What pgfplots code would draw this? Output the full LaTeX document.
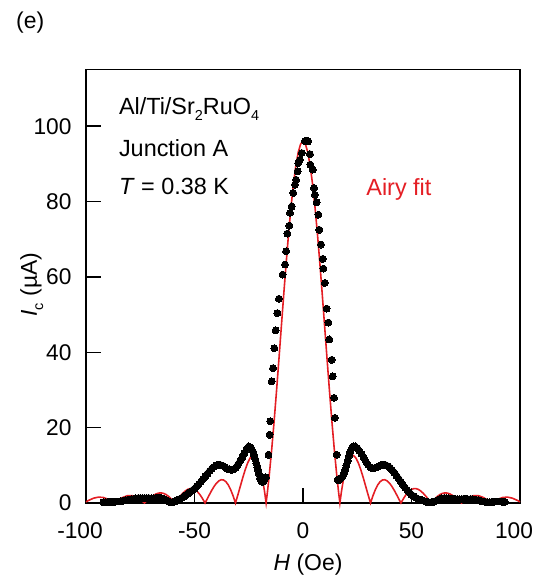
\documentclass[border=0pt]{standalone}
\usepackage{fontspec}
\setmainfont{Liberation Sans}
\usepackage{pgfplots}
\pgfplotsset{compat=1.18}
\definecolor{fitred}{RGB}{228,30,36}
\newcommand\sub[1]{\raisebox{-0.27em}{\fontsize{14.5}{14.5}\selectfont #1}}
\begin{document}
\begin{tikzpicture}
\path[use as bounding box] (-86bp,-74bp) rectangle (449bp,503bp);
\begin{axis}[at={(0,0)}, anchor=south west, scale only axis,
  width=434bp, height=433.3bp,
  xmin=-100, xmax=100, ymin=0, ymax=115,
  xtick={-100,-50,0,50,100}, xticklabels={{-100\kern12bp},-50,0,50,{100\kern12bp}},
  ytick={0,20,40,60,80,100}, yticklabels={0,20,40,60,80,100},
  tick align=inside, xtick pos=bottom, ytick pos=left,
  major tick length=15bp,
  axis line style={line width=1.5pt},
  every tick/.style={black, line width=1.5pt},
  tick label style={font=\fontsize{22.8}{26}\selectfont, inner sep=0pt},
  xticklabel style={anchor=north, yshift=-19.7bp},
  yticklabel style={anchor=east, xshift=-14.3bp},
  clip=false]
\addplot[fitred, line width=1.6pt] coordinates {
(-100,0.31)(-98.72,0.71)(-96.50,1.28)(-94.28,1.56)(-92.06,1.47)(-89.84,1.00)(-87.62,0.23)(-87.03,0)
(-85.41,0.64)(-83.19,1.44)(-80.97,1.92)(-78.75,1.96)(-76.53,1.51)(-74.31,0.62)(-73.07,0)
(-72.10,0.51)(-70.99,1.08)(-69.88,1.62)(-68.77,2.07)(-67.66,2.42)(-66.55,2.63)(-65.44,2.68)(-64.33,2.56)(-63.22,2.28)(-62.11,1.83)(-61.00,1.24)(-59.90,0.54)(-59.11,0)
(-57.68,1.04)(-56.57,1.83)(-55.46,2.54)(-54.35,3.14)(-53.24,3.58)(-52.13,3.81)(-51.02,3.81)(-49.91,3.57)(-48.80,3.09)(-47.70,2.37)(-46.59,1.44)(-45.14,0)
(-44.37,0.83)(-43.26,2.07)(-42.15,3.26)(-41.04,4.34)(-39.93,5.23)(-38.82,5.86)(-37.71,6.17)(-36.60,6.10)(-35.49,5.63)(-34.38,4.75)(-33.28,3.46)(-32.17,1.82)(-31.13,0)
(-29.95,2.27)(-28.84,4.54)(-27.73,6.78)(-26.62,8.85)(-25.51,10.62)(-24.40,11.92)(-23.29,12.62)(-22.18,12.58)(-21.07,11.71)(-19.97,9.86)(-18.86,7.05)(-17.75,3.17)(-17.00,0)
(-16.42,2.75)(-15.528,7.54)(-14.419,14.24)(-13.310,21.70)(-12.201,29.74)(-11.092,38.18)(-9.983,46.80)(-8.873,55.37)(-7.764,63.65)(-6.655,71.42)(-5.546,78.43)(-4.437,84.49)(-3.328,89.41)(-2.218,93.03)(-1.109,95.25)
(0,96.00)
(1.109,95.25)(2.218,93.03)(3.328,89.41)(4.437,84.49)(5.546,78.43)(6.655,71.42)(7.764,63.65)(8.873,55.37)(9.983,46.80)(11.092,38.18)(12.201,29.74)(13.310,21.70)(14.419,14.24)(15.528,7.54)(16.42,2.75)
(17.00,0)(17.75,3.17)(18.86,7.05)(19.97,9.86)(21.07,11.71)(22.18,12.58)(23.29,12.62)(24.40,11.92)(25.51,10.62)(26.62,8.85)(27.73,6.78)(28.84,4.54)(29.95,2.27)
(31.13,0)(32.17,1.82)(33.28,3.46)(34.38,4.75)(35.49,5.63)(36.60,6.10)(37.71,6.17)(38.82,5.86)(39.93,5.23)(41.04,4.34)(42.15,3.26)(43.26,2.07)(44.37,0.83)
(45.14,0)(46.59,1.44)(47.70,2.37)(48.80,3.09)(49.91,3.57)(51.02,3.81)(52.13,3.81)(53.24,3.58)(54.35,3.14)(55.46,2.54)(56.57,1.83)(57.68,1.04)
(59.11,0)(59.90,0.54)(61.00,1.24)(62.11,1.83)(63.22,2.28)(64.33,2.56)(65.44,2.68)(66.55,2.63)(67.66,2.42)(68.77,2.07)(69.88,1.62)(70.99,1.08)(72.10,0.51)
(73.07,0)(74.31,0.62)(76.53,1.51)(78.75,1.96)(80.97,1.92)(83.19,1.44)(85.41,0.64)
(87.03,0)(87.62,0.23)(89.84,1.00)(92.06,1.47)(94.28,1.56)(96.50,1.28)(98.72,0.71)(100,0.31)
};
\addplot[only marks, mark=*, mark size=3.5pt, mark options={fill=black, draw=black, line width=0pt}] coordinates {
(-92,0.2)(-91,0.2)(-90,0.3)(-89,0.3)(-88,0.3)(-87,0.3)(-86,0.4)(-85,0.4)(-84,0.5)(-83,0.6)(-82,0.7)(-81,0.8)(-80,0.9)(-79,1.0)(-78,1.1)(-77,1.2)(-76,1.3)(-75,1.3)(-74,1.3)(-73,1.3)(-72,1.3)(-71,1.3)(-70,1.2)(-69,1.2)(-68,1.3)(-67,1.4)(-66,1.4)(-65,1.2)(-64,1.0)(-63,0.7)(-62,0.4)(-61,0.2)(-60,0.2)(-59,0.4)(-58,0.7)(-57,1.0)(-56,1.3)(-55,1.7)(-54,2.1)(-53,2.5)(-52,2.9)(-51,3.3)(-50,3.8)(-49,4.4)(-48,5.0)(-47,5.7)(-46,6.4)(-45,7.1)(-44,7.8)(-43,8.5)(-42,9.1)(-41,9.6)(-40,10.0)(-39,10.2)(-38,10.1)(-37,9.9)(-36,9.5)(-35,9.1)(-34,8.9)(-33,8.8)(-32,8.9)(-31,9.4)(-30,10.2)(-29,11.1)(-28,12.1)(-27,13.2)(-26,14.3)(-25,15.0)(-24,14.7)(-23,13.6)(-22.5,12.6)(-22,11.6)(-21.5,10.5)(-21,9.5)(-20.6,8.6)(-20.2,7.6)(-19.8,6.6)(-19.4,6.0)(-18.8,5.6)(-18.2,5.8)(-17.6,6.4)(-17.1,6.8)
(-15.9,12.8)(-15.4,18.1)(-15.1,21.7)(-14.4,32.3)(-13.8,35.8)(-13.2,41.1)(-12.6,45.8)(-11.8,50.4)(-11.1,54.2)(-9.4,60.6)(-8.3,63.3)(-7.8,66.8)(-7.2,71.5)(-6.3,73.6)(-6.0,77.0)(-5.2,78.7)(-4.5,82.3)(-3.7,84.5)(-3.2,85.8)(-2.5,88.0)(-2.2,90.2)(-1.4,91.1)(-0.6,92.9)(0.9,96.0)(1.6,96.2)(2.4,96.0)(3.2,92.6)(3.4,89.8)(4.5,88.5)(5.1,83.6)(5.5,81.8)(6.3,79.8)(7.1,76.5)(7.5,72.5)(8.3,68.6)(9.1,64.8)(9.4,62.2)(10.1,58.4)(10.9,51.6)(11.7,47.9)(12.1,43.4)(13.2,38.0)(13.7,33.6)(14.3,27.9)(14.7,22.6)(15.5,12.8)
(16.0,6.2)(16.5,6.0)(17.0,6.3)(17.6,6.6)(18.2,7.0)(18.8,7.8)(19.4,8.8)(20.0,9.9)(20.6,11.2)(21.2,12.5)(21.8,13.6)(22.5,14.5)(23.2,15.0)(24,15.0)(25,14.6)(26,13.8)(27,13.0)(28,12.0)(29,11.0)(30,10.1)(31,9.5)(32,9.2)(33,9.3)(34,9.5)(35,9.8)(36,10.1)(37,10.2)(38,10.1)(39,9.8)(40,9.4)(41,8.8)(42,8.1)(43,7.3)(44,6.5)(45,5.7)(46,4.9)(47,4.1)(48,3.4)(49,2.8)(50,2.2)(51,1.8)(52,1.4)(53,1.1)(54,0.9)(55,0.7)(56,0.5)(57,0.3)(58,0.2)(59,0.2)(60,0.3)(61,0.5)(62,0.7)(63,1.0)(64,1.2)(65,1.3)(66,1.3)(67,1.2)(68,1.1)(69,1.1)(70,1.1)(71,1.0)(72,1.0)(73,1.0)(74,1.1)(75,1.1)(76,1.0)(77,1.0)(78,1.0)(79,0.9)(80,0.8)(81,0.7)(82,0.5)(83,0.4)(84,0.3)(85,0.2)(86,0.2)(87,0.3)(88,0.3)(89,0.4)(90,0.4)(91,0.4)(92,0.3)(93,0.3)
};
\node[anchor=base west, font=\fontsize{23.5}{26}\selectfont] at (axis cs:-86.4,103.2) {Al/Ti/Sr\sub{2}RuO\sub{4}};
\node[anchor=base west, font=\fontsize{23.5}{26}\selectfont] at (axis cs:-86.4,91.9) {Junction A};
\node[anchor=base west, font=\fontsize{23.5}{26}\selectfont] at (axis cs:-86.4,82.0) {\textit{T} = 0.38 K};
\node[anchor=base west, text=fitred, font=\fontsize{23.5}{26}\selectfont] at (axis cs:27.6,81.6) {Airy fit};
\node[anchor=base, font=\fontsize{23}{26}\selectfont] at ([xshift=5bp, yshift=-67.7bp]rel axis cs:0.5,0) {\textit{H} (Oe)};
\node[anchor=base, rotate=90, font=\fontsize{23}{26}\selectfont] at ([xshift=-49bp]rel axis cs:0,0.504) {\textit{I}\sub{c} (µA)};
\node[anchor=base west, font=\fontsize{23}{26}\selectfont] at ([xshift=-73.3bp, yshift=41.5bp]rel axis cs:0,1) {(e)};
\end{axis}
\end{tikzpicture}
\end{document}
